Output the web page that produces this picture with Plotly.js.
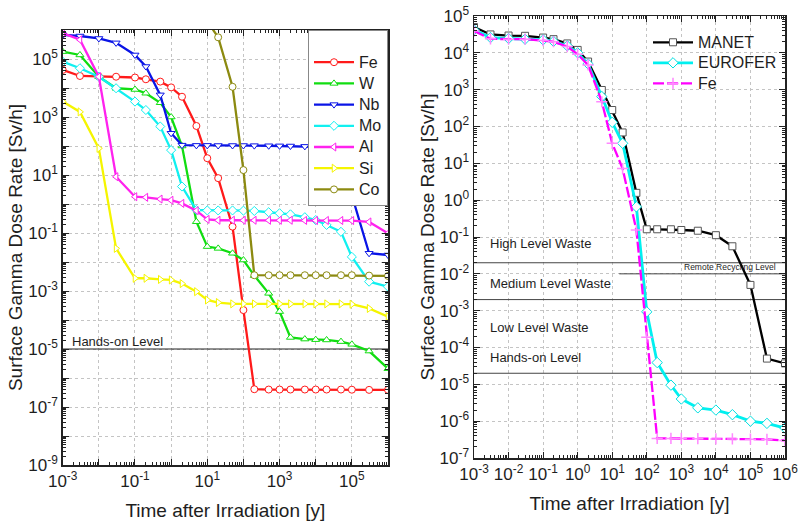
<!DOCTYPE html>
<html>
<head>
<meta charset="utf-8">
<script src="https://cdn.plot.ly/plotly-3.0.1.min.js"></script>
<style>html,body{margin:0;padding:0;background:#fff}#chart{width:803px;height:525px}</style>
</head>
<body>
<div id="chart"></div>
<script>
// ---------- Left panel data (time in years, dose rate in Sv/h) ----------
var tLeft = [1e-3, 3e-3, 1e-2, 3e-2, 0.1, 0.2, 0.5, 1, 2, 5, 10, 20, 50, 100, 200, 500, 1e3, 2e3, 5e3, 1e4, 2e4, 5e4, 1e5, 3e5, 1e6];
var feLeft = [4.2e4, 2.6e4, 2.5e4, 2.45e4, 2.3e4, 2.0e4, 1.66e4, 1.05e4, 5.0e3, 490, 38, 7.8, 0.166, 2.2e-4, 4.1e-7, 4.0e-7, 4.0e-7, 4.0e-7, 4.0e-7, 4.0e-7, 4.0e-7, 4.0e-7, 3.95e-7, 3.9e-7, 3.9e-7];
var wLeft = [1.8e5, 1.38e5, 2.45e4, 9.8e3, 8.9e3, 6.6e3, 3.1e3, 1.0e3, 100, 0.245, 0.034, 0.0295, 0.02, 0.0117, 3.4e-3, 8.3e-4, 1.95e-4, 2.5e-5, 2.2e-5, 2.1e-5, 2.05e-5, 1.8e-5, 1.45e-5, 8.5e-6, 2.1e-6];
var nbLeft = [6.8e5, 6.2e5, 5.1e5, 3.6e5, 1.38e5, 5.5e4, 5.8e3, 275, 107, 105, 105, 104, 104, 104, 103, 102, 101, 100, 97, 95, 92, 85, 2.0, 0.02, 0.0174];
var moLeft = [8.1e4, 4.8e4, 2.45e4, 9.8e3, 3.4e3, 1.74e3, 470, 72, 4.0, 0.62, 0.60, 0.60, 0.60, 0.59, 0.575, 0.52, 0.48, 0.44, 0.35, 0.28, 0.19, 0.11, 0.015, 2.1e-3, 1.4e-3];
var alLeft = [7.8e5, 4.6e5, 2.45e4, 8.7, 1.78, 1.7, 1.48, 1.35, 1.05, 0.59, 0.295, 0.275, 0.275, 0.275, 0.275, 0.275, 0.275, 0.275, 0.272, 0.27, 0.27, 0.27, 0.268, 0.24, 0.098];
var siLeft = [3.4e3, 1.5e3, 83, 0.0295, 2.75e-3, 2.75e-3, 2.5e-3, 2.4e-3, 1.8e-3, 9.5e-4, 4.9e-4, 4.0e-4, 3.6e-4, 3.6e-4, 3.6e-4, 3.6e-4, 3.6e-4, 3.6e-4, 3.6e-4, 3.6e-4, 3.6e-4, 3.6e-4, 3.5e-4, 2.5e-4, 1.3e-4];
var tCo = [10, 20, 50, 100, 200, 500, 1e3, 2e3, 5e3, 1e4, 2e4, 5e4, 1e5, 3e5, 1e6];
var coLeft = [2.0e6, 5.6e5, 1.1e4, 14.8, 3.5e-3, 3.5e-3, 3.5e-3, 3.5e-3, 3.5e-3, 3.5e-3, 3.5e-3, 3.5e-3, 3.5e-3, 3.4e-3, 3.3e-3];
var handsOnLeft = 1e-5;

// ---------- Right panel data ----------
var tRight = [1e-3, 3e-3, 1e-2, 3e-2, 0.1, 0.2, 0.5, 1, 2, 5, 10, 20, 50, 100, 200, 500, 1e3, 3e3, 1e4, 3e4, 1e5, 3e5, 1e6];
var manet = [5.0e4, 3.16e4, 2.95e4, 2.9e4, 2.6e4, 2.35e4, 1.8e4, 1.2e4, 5.8e3, 980, 280, 69, 1.58, 0.162, 0.162, 0.162, 0.155, 0.148, 0.112, 0.056, 5.0e-3, 5.0e-5, 3.7e-5];
var eurofer = [4.2e4, 2.6e4, 2.45e4, 2.35e4, 2.25e4, 2.05e4, 1.55e4, 1.0e4, 5.0e3, 650, 130, 35, 0.66, 9.3e-4, 3.9e-5, 9.5e-6, 4.0e-6, 2.3e-6, 2.0e-6, 1.5e-6, 1.0e-6, 8.7e-7, 6.5e-7];
var feRight = [3.9e4, 2.4e4, 2.35e4, 2.35e4, 2.15e4, 2.0e4, 1.48e4, 9.1e3, 4.7e3, 470, 35, 7.2, 0.155, 1.9e-4, 3.4e-7, 3.4e-7, 3.4e-7, 3.35e-7, 3.3e-7, 3.3e-7, 3.25e-7, 3.2e-7, 3.0e-7];
var levelNames = ['High Level Waste', 'Medium Level Waste', 'Low Level Waste', 'Hands-on Level'];
var levelLines = [2e-2, 2e-3, 2e-5];        // full-width boundaries
var remoteRecycling = {level: 1e-2, from: 16, to: 1e6, label: 'Remote Recycling Level'};

var FONT = 'Liberation Sans, Arial, Helvetica, sans-serif';
var TXT = '#1e1e1e';

function decades(a, b) { var v = []; for (var e = a; e <= b; e++) v.push(Math.pow(10, e)); return v; }
function decLabels(a, b, step, ref) {
  var t = [];
  for (var e = a; e <= b; e++) t.push(((e - ref) % step === 0) ? '10<sup>' + e + '</sup>' : '');
  return t;
}
function legendName(n) { return '<span style="font-size:16px">' + n + '</span>'; }

function series(x, y, name, color, symbol, xa, ya, legend, extra) {
  var tr = {
    type: 'scatter', mode: 'lines+markers', x: x, y: y, name: legendName(name),
    xaxis: xa, yaxis: ya, legend: legend,
    line: {color: color, width: 2.3},
    marker: {symbol: symbol, size: 7, color: '#ffffff', line: {color: color, width: 1}},
    cliponaxis: true
  };
  if (extra) for (var k in extra) tr[k] = extra[k];
  return tr;
}

var traces = [
  {type: 'scatter', mode: 'lines', x: [1e-3, 1e6], y: [handsOnLeft, handsOnLeft], xaxis: 'x', yaxis: 'y',
   line: {color: '#222', width: 1}, showlegend: false, hoverinfo: 'skip'},
  series(tLeft, feLeft, 'Fe', '#ff1a1a', 'circle', 'x', 'y', 'legend'),
  series(tLeft, wLeft, 'W', '#11dd11', 'triangle-up', 'x', 'y', 'legend'),
  series(tLeft, nbLeft, 'Nb', '#0a14e6', 'triangle-down', 'x', 'y', 'legend'),
  series(tLeft, moLeft, 'Mo', '#11f0f0', 'diamond', 'x', 'y', 'legend'),
  series(tLeft, alLeft, 'Al', '#ff22ee', 'triangle-left', 'x', 'y', 'legend'),
  series(tLeft, siLeft, 'Si', '#f5f500', 'triangle-right', 'x', 'y', 'legend'),
  series(tCo, coLeft, 'Co', '#8c8a10', 'circle', 'x', 'y', 'legend')
];

// level lines on the right panel
levelLines.forEach(function (v) {
  traces.push({type: 'scatter', mode: 'lines', x: [1e-3, 1e6], y: [v, v], xaxis: 'x2', yaxis: 'y2',
    line: {color: '#444', width: 1}, showlegend: false, hoverinfo: 'skip'});
});
traces.push({type: 'scatter', mode: 'lines', x: [remoteRecycling.from, remoteRecycling.to],
  y: [remoteRecycling.level, remoteRecycling.level], xaxis: 'x2', yaxis: 'y2',
  line: {color: '#444', width: 1}, showlegend: false, hoverinfo: 'skip'});

traces.push(series(tRight, manet, 'MANET', '#000000', 'square', 'x2', 'y2', 'legend2',
  {marker: {symbol: 'square', size: 7, color: '#ffffff', line: {color: '#555', width: 1}}}));
traces.push(series(tRight, eurofer, 'EUROFER', '#00f0f0', 'diamond', 'x2', 'y2', 'legend2',
  {line: {color: '#00f0f0', width: 2.8},
   marker: {symbol: 'diamond', size: 8, color: '#ffffff', line: {color: '#00e0e0', width: 1}}}));
traces.push(series(tRight, feRight, 'Fe', '#ff00ff', 'cross-thin', 'x2', 'y2', 'legend2',
  {line: {color: '#ff00ff', width: 2.3, dash: '11px,3px'},
   marker: {symbol: 'cross-thin', size: 8, color: '#ff00ff', line: {color: '#ff88ff', width: 1.5}}}));

function logAxis(domain, range, labelStep, labelRef, anchor, titleText, standoff) {
  return {
    type: 'log', domain: domain, range: range, anchor: anchor,
    tickmode: 'array', tickvals: decades(range[0], range[1]),
    ticktext: decLabels(range[0], range[1], labelStep, labelRef),
    ticks: 'inside', ticklen: 6, tickwidth: 1, tickcolor: '#222',
    mirror: 'allticks', showline: true, linecolor: '#222', linewidth: 1.5,
    showgrid: true, gridcolor: '#c4c4c4', griddash: 'dot', gridwidth: 1,
    zeroline: false,
    minor: {ticks: 'inside', ticklen: 3, tickcolor: '#222', dtick: 'D1', showgrid: false},
    tickfont: {family: FONT, size: 17, color: TXT},
    title: {text: titleText, font: {family: FONT, size: 19, color: TXT}, standoff: standoff},
    automargin: false
  };
}

var W = 803, H = 525;
function px(x) { return x / W; }
function py(y) { return 1 - y / H; }

var layout = {
  width: W, height: H,
  margin: {l: 0, r: 0, t: 0, b: 0},
  paper_bgcolor: '#fff', plot_bgcolor: '#fff',
  font: {family: FONT, color: TXT},
  showlegend: true,
  xaxis: logAxis([px(62.7), px(388)], [-3, 6], 2, -3, 'y', 'Time after Irradiation [y]', 14),
  yaxis: logAxis([py(465), py(30)], [-9, 6], 2, -9, 'x', 'Surface Gamma Dose Rate [Sv/h]', 0),
  xaxis2: logAxis([px(474), px(785)], [-3, 6], 1, -3, 'y2', 'Time after Irradiation [y]', 14),
  yaxis2: logAxis([py(458), py(16)], [-7, 5], 1, -7, 'x2', 'Surface Gamma Dose Rate [Sv/h]', 0),
  legend: {
    x: px(388), xanchor: 'right', y: py(30), yanchor: 'top',
    bgcolor: '#fff', bordercolor: '#888', borderwidth: 1,
    font: {family: FONT, size: 14, color: TXT}, tracegroupgap: 0, itemwidth: 40,
    title: {text: ' ', font: {size: 12}}
  },
  legend2: {
    x: px(648), xanchor: 'left', y: py(27), yanchor: 'top',
    bgcolor: 'rgba(0,0,0,0)', borderwidth: 0,
    font: {family: FONT, size: 13.5, color: TXT}, tracegroupgap: 0, itemwidth: 40
  },
  annotations: [
    {text: 'Hands-on Level', xref: 'paper', yref: 'paper', x: px(70), y: py(341), xanchor: 'left', yanchor: 'middle',
     showarrow: false, font: {family: FONT, size: 13, color: TXT}},
    {text: levelNames[0], xref: 'paper', yref: 'paper', x: px(488), y: py(244), xanchor: 'left', yanchor: 'middle',
     showarrow: false, font: {family: FONT, size: 13, color: TXT}},
    {text: levelNames[1], xref: 'paper', yref: 'paper', x: px(488), y: py(283), xanchor: 'left', yanchor: 'middle',
     showarrow: false, font: {family: FONT, size: 13, color: TXT}},
    {text: levelNames[2], xref: 'paper', yref: 'paper', x: px(488), y: py(327), xanchor: 'left', yanchor: 'middle',
     showarrow: false, font: {family: FONT, size: 13, color: TXT}},
    {text: levelNames[3], xref: 'paper', yref: 'paper', x: px(488), y: py(357), xanchor: 'left', yanchor: 'middle',
     showarrow: false, font: {family: FONT, size: 13, color: TXT}},
    {text: remoteRecycling.label, xref: 'paper', yref: 'paper', x: px(682), y: py(267), xanchor: 'left', yanchor: 'middle',
     showarrow: false, font: {family: FONT, size: 8.5, color: TXT}}
  ]
};

Plotly.newPlot('chart', traces, layout, {displayModeBar: false, staticPlot: true});
</script>
</body>
</html>
